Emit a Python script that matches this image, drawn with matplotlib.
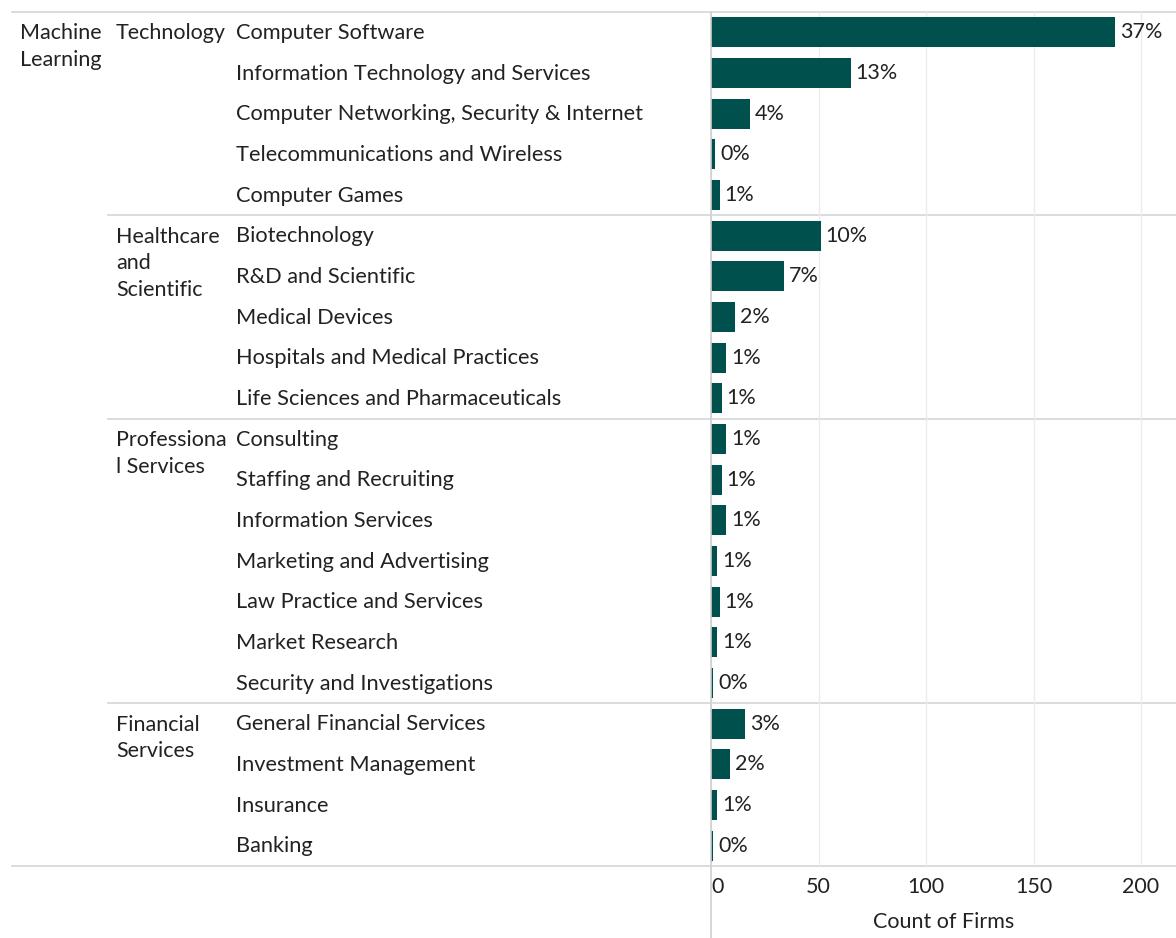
import matplotlib

matplotlib.use("Agg")
import matplotlib.pyplot as plt
import matplotlib.transforms as mtransforms
from matplotlib.lines import Line2D

# data
top_label = "Machine\nLearning"
groups = ["Technology", "Healthcare\nand\nScientific", "Professiona\nl Services", "Financial\nServices"]
group_sizes = [5, 5, 7, 4]
industries = [
    "Computer Software", "Information Technology and Services",
    "Computer Networking, Security & Internet", "Telecommunications and Wireless",
    "Computer Games",
    "Biotechnology", "R&D and Scientific", "Medical Devices",
    "Hospitals and Medical Practices", "Life Sciences and Pharmaceuticals",
    "Consulting", "Staffing and Recruiting", "Information Services",
    "Marketing and Advertising", "Law Practice and Services", "Market Research",
    "Security and Investigations",
    "General Financial Services", "Investment Management", "Insurance", "Banking",
]
counts = [188, 65, 18, 2, 4, 51, 34, 11, 7, 5, 7, 5, 7, 3, 4, 3, 1, 16, 9, 3, 1]
pct_labels = ["37%", "13%", "4%", "0%", "1%", "10%", "7%", "2%", "1%", "1%",
              "1%", "1%", "1%", "1%", "1%", "1%", "0%", "3%", "2%", "1%", "0%"]
x_ticks = [0, 50, 100, 150, 200]

W, H = 1176, 938
BAR = "#00504d"
TXT = "#222222"
LINE = "#d6d6d6"
FONT = ["Lato", "DejaVu Sans"]
FS = 15.5
FS_ROW = 15.7

plt.rcParams["font.family"] = FONT

fig = plt.figure(figsize=(W / 100, H / 100), dpi=100)
x0, x1, y_top, y_bot = 711, 1176, 12, 866
ax = fig.add_axes([x0 / W, (H - y_bot) / H, (x1 - x0) / W, (y_bot - y_top) / H])

n = len(industries)
rows = list(range(n))
ax.barh(rows, counts, height=0.74, color=BAR, zorder=3)
for i, (v, lab) in enumerate(zip(counts, pct_labels)):
    ax.text(v + 2.3, i, lab, va="center", ha="left", fontsize=FS, color=TXT)

ax.set_xlim(0, (x1 - x0) / 2.15)
ax.set_ylim(n - 0.5, -0.5)
ax.set_yticks([])
ax.set_xticks(x_ticks)
ax.set_xticklabels([str(t) for t in x_ticks], fontsize=FS, color=TXT)
ax.tick_params(axis="x", length=0, pad=8)
# nudge the zero label off the axis line, as the source does
zero_lab = ax.get_xticklabels()[0]
zero_lab.set_transform(zero_lab.get_transform() + mtransforms.ScaledTranslation(7 / 100, 0, fig.dpi_scale_trans))
ax.set_xlabel("Count of Firms", fontsize=FS, color=TXT, labelpad=11)
ax.grid(axis="x", color="#ececec", lw=1, zorder=0)
for s in ax.spines.values():
    s.set_visible(False)

# row headers, x in figure pixels, y in data rows
tr = mtransforms.blended_transform_factory(fig.transFigure, ax.transData)
for i, name in enumerate(industries):
    ax.text(236 / W, i + 0.02, name, transform=tr, va="center", ha="left", fontsize=FS_ROW, color=TXT)

start = 0
for g, size in zip(groups, group_sizes):
    ax.text(116 / W, start - 0.22, g, transform=tr, va="top", ha="left", fontsize=FS,
            color=TXT, linespacing=1.42)
    if start > 0:
        ax.add_line(Line2D([108 / W, 1], [start - 0.5, start - 0.5], transform=tr,
                           color=LINE, lw=1.2, clip_on=False, zorder=1))
    start += size
ax.text(20 / W, -0.22, top_label, transform=tr, va="top", ha="left", fontsize=FS,
        color=TXT, linespacing=1.42)

# frame lines across the header columns
for yr in (-0.5, n - 0.5):
    ax.add_line(Line2D([12 / W, 1], [yr, yr], transform=tr, color=LINE, lw=1.2,
                       clip_on=False, zorder=1))
fig.add_artist(Line2D([x0 / W, x0 / W], [0, 1 - y_top / H], color="#cfcfcf", lw=1.2))

fig.savefig("out.png", dpi=100, facecolor="white")
